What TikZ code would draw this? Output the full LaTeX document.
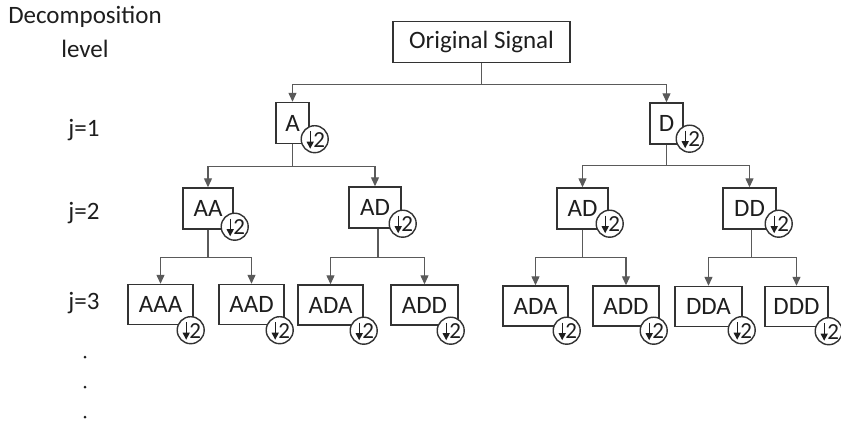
\documentclass[tikz,border=0pt]{standalone}
\usepackage{fontspec}
\setmainfont{Carlito}
\usetikzlibrary{arrows.meta,calc}
\definecolor{txt}{HTML}{1E1E1E}
\definecolor{ln}{HTML}{5A5A5A}
\definecolor{bx}{HTML}{333333}
\tikzset{
 box/.style={draw=bx, fill=white, line width=1.4pt, minimum height=41pt, inner sep=0pt, text=txt, font=\fontsize{25}{25}\selectfont},
 conn/.style={draw=ln, line width=1.2pt, -{Triangle[length=9pt,width=8pt]}},
 stem/.style={draw=ln, line width=1.2pt},
 dsc/.style={circle, draw=bx, fill=white, line width=1.4pt, minimum size=27pt, inner sep=0pt},
 lbl/.style={text=txt, font=\fontsize{25}{25}\selectfont},
 two/.style={text=txt, inner sep=0pt, font=\fontsize{23}{23}\selectfont},
 darr/.style={draw=txt, line width=1.3pt, -{Triangle[length=7pt,width=7pt]}},
}
\newcommand\dsamp[3]{%
  \node[dsc] (#1) at ($(#2.south east)+(#3)$) {};
  \draw[darr] ($(#1.center)+(-4.5,-8)$) -- ($(#1.center)+(-4.5,9.5)$);
  \node[two] (#1t) at ($(#1.center)+(4.5,0.5)$) {2};
}
\begin{document}
\begin{tikzpicture}[x=1pt,y=-1pt]
\useasboundingbox (0,0) rectangle (841,423);
% level labels
\node[lbl] (dec) at (85,17) {Decomposition};
\node[lbl] (lev) at (85,49) {level};
\node[lbl] (j1) at (84,130) {j=1};
\node[lbl] (j2) at (84,213) {j=2};
\node[lbl] (j3) at (84,303) {j=3};
\fill[txt] (85,357) circle (1.5) (85,387) circle (1.5) (85,417) circle (1.5);
% boxes
\node[box, minimum width=177pt] (os) at (481.5,42) {Original Signal};
\node[box, minimum width=33pt] (A) at (292.5,123) {A};
\node[box, minimum width=33pt] (D) at (666.5,123.5) {D};
\node[box, minimum width=50pt] (AA) at (208,208.5) {AA};
\node[box, minimum width=52pt] (AD) at (375,207.5) {AD};
\node[box, minimum width=51pt] (AD2) at (582.5,208.5) {AD};
\node[box, minimum width=53pt] (DD) at (749.5,208.5) {DD};
\node[box, minimum width=65pt, minimum height=40pt] (AAA) at (160.5,304.5) {AAA};
\node[box, minimum width=65pt, minimum height=40pt] (AAD) at (251.5,304.5) {AAD};
\node[box, minimum width=65pt, minimum height=40pt] (ADA) at (330.5,305) {ADA};
\node[box, minimum width=67pt, minimum height=40pt] (ADD) at (424.5,305) {ADD};
\node[box, minimum width=65pt, minimum height=40pt] (ADA2) at (535.5,306) {ADA};
\node[box, minimum width=66pt, minimum height=40pt] (ADD2) at (626,306) {ADD};
\node[box, minimum width=67pt, minimum height=40pt] (DDA) at (708.5,306.5) {DDA};
\node[box, minimum width=63pt, minimum height=40pt] (DDD) at (796.5,306.5) {DDD};
% downsampling circles
\dsamp{cA}{A}{5,-5}
\dsamp{cD}{D}{6,-6}
\dsamp{cAA}{AA}{1,-3}
\dsamp{cAD}{AD}{1,-5}
\dsamp{cAD2}{AD2}{1,-6}
\dsamp{cDD}{DD}{2,-6}
\dsamp{cAAA}{AAA}{-3,5}
\dsamp{cAAD}{AAD}{-5,5}
\dsamp{cADA}{ADA}{0,5}
\dsamp{cADD}{ADD}{-8,5}
\dsamp{cADA2}{ADA2}{-2,4}
\dsamp{cADD2}{ADD2}{-6,4}
\dsamp{cDDA}{DDA}{-1,3}
\dsamp{cDDD}{DDD}{0,4}
% bars
\coordinate (b0) at ($(os.south)+(0,21)$);
\coordinate (bA) at ($(A.south)+(0,22)$);
\coordinate (bD) at ($(D.south)+(0,21)$);
\coordinate (bAA) at ($(AA.south)+(0,28)$);
\coordinate (bAD) at ($(AD.south)+(3,29)$);
\coordinate (bAD2) at ($(AD2.south)+(0,28)$);
\coordinate (bDD) at ($(DD.south)+(2,28)$);
% connectors
\draw[stem] (os.south) -- (b0);
\draw[conn] (b0) -| (A.north);
\draw[conn] (b0) -| (D.north);
\draw[stem] (A.south) -- (bA);
\draw[conn] (bA) -| (AA.north);
\draw[conn] (bA) -| (AD.north);
\draw[stem] (D.south) -- (bD);
\draw[conn] (bD) -| (AD2.north);
\draw[conn] (bD) -| (DD.north);
\draw[stem] (AA.south) -- (bAA);
\draw[conn] (bAA) -| (AAA.north);
\draw[conn] (bAA) -| (AAD.north);
\draw[stem] (AD.south -| bAD) -- (bAD);
\draw[conn] (bAD) -| (ADA.north);
\draw[conn] (bAD) -| (ADD.north);
\draw[stem] (AD2.south) -- (bAD2);
\draw[conn] (bAD2) -| (ADA2.north);
\draw[conn] (bAD2) -| (ADD2.north);
\draw[stem] (DD.south -| bDD) -- (bDD);
\draw[conn] (bDD) -| (DDA.north);
\draw[conn] (bDD) -| (DDD.north);
\end{tikzpicture}
\end{document}
